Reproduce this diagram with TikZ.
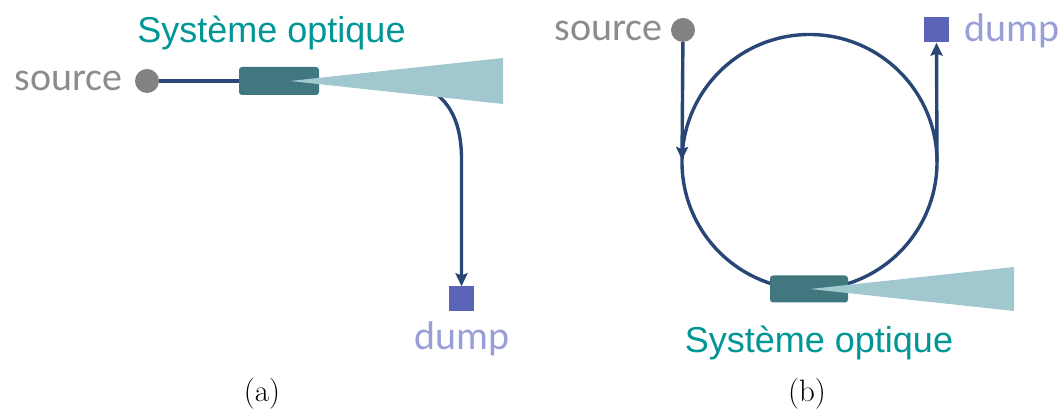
\documentclass[tikz,border=0pt]{standalone}
\usepackage{fontspec}
\usetikzlibrary{arrows.meta}
\newfontfamily\tagfont{Carlito}
\newfontfamily\systfont{Liberation Sans}
\definecolor{fibernavy}{RGB}{40, 70, 118}
\definecolor{srcgray}{RGB}{130, 130, 130}
\definecolor{srctext}{RGB}{140, 140, 140}
\definecolor{couplerteal}{RGB}{65, 120, 128}
\definecolor{conelight}{RGB}{160, 200, 206}
\definecolor{dumpblue}{RGB}{92, 100, 184}
\definecolor{dumptext}{RGB}{152, 158, 214}
\definecolor{systeal}{RGB}{0, 150, 150}

\begin{document}
\begin{tikzpicture}[x=1pt, y=1pt,
    fiber/.style={draw=fibernavy, line width=3.4pt},
    fiberarrow/.style={fiber, -{Stealth[length=13pt, width=12pt, inset=2pt]}},
    srcdot/.style={circle, fill=srcgray, minimum size=24pt, inner sep=0pt},
    dumpbox/.style={rectangle, fill=dumpblue, minimum size=25pt, inner sep=0pt},
    coupler/.style={rectangle, rounded corners=3pt, fill=couplerteal, minimum width=80pt, minimum height=28pt, inner sep=0pt},
    srclabel/.style={text=srctext, font=\tagfont\fontsize{40}{44}\selectfont, inner sep=0pt},
    dumplabel/.style={text=dumptext, font=\tagfont\fontsize{40}{44}\selectfont, inner sep=0pt},
    systlabel/.style={text=systeal, font=\systfont\fontsize{36}{40}\selectfont, inner sep=0pt},
    caption/.style={font=\fontsize{31}{34}\selectfont, inner sep=0pt}]
    \useasboundingbox (0,0) rectangle (1062,414);

    % (a) straight coupler
    \node[srcdot]             (srcA)   at (147,333) {};
    \node[srclabel, anchor=east] (srcAtxt) at (123,333) {source};
    \node[coupler]            (coupA)  at (279,333) {};
    \draw[fiber] (srcA) -- (coupA.west);
    \coordinate (bendA) at (422,328);
    \node[dumpbox]            (dumpA)  at (461.5,115) {};
    \draw[fiberarrow] (bendA) to[out=-22, in=90] (461.5,255) -- (dumpA.north);
    \fill[conelight] (290,333) -- (503,356) -- (503,310) -- cycle;
    \node[systlabel, anchor=base] (systA) at (271.5,371) {Système optique};
    \node[dumplabel, anchor=base] (dumpAtxt) at (462,64) {dump};
    \node[caption, anchor=base] (capA) at (262,12) {(a)};

    % (b) fiber loop
    \node[srcdot]             (srcB)   at (683,384) {};
    \node[srclabel, anchor=east] (srcBtxt) at (663,383) {source};
    \node[dumpbox]            (dumpB)  at (936.5,384) {};
    \node[dumplabel, anchor=base west] (dumpBtxt) at (964,372) {dump};
    \coordinate (loopC) at (809.5,252);
    \draw[fiber] (loopC) circle (127.5);
    \draw[fiberarrow] (srcB) -- (682,254);
    \draw[fiberarrow] (937,252) -- (dumpB.south);
    \node[coupler, minimum width=78pt, minimum height=27pt] (coupB) at (809,125) {};
    \fill[conelight] (810,125) -- (1014,147) -- (1014,103) -- cycle;
    \node[systlabel, anchor=base] (systB) at (819,61) {Système optique};
    \node[caption, anchor=base] (capB) at (807,12) {(b)};
\end{tikzpicture}
\end{document}
